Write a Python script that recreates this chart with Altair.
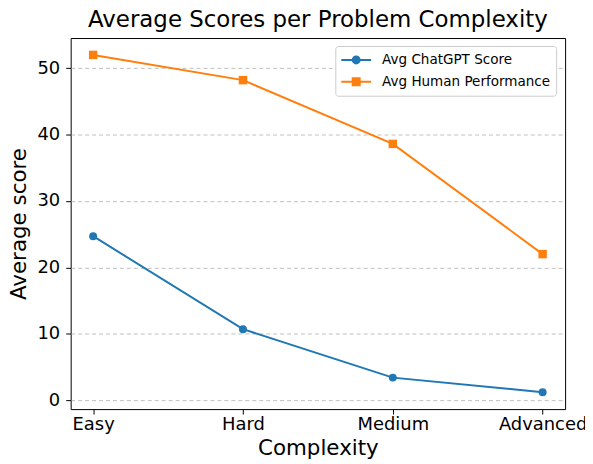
import altair as alt
import pandas as pd

categories = ["Easy", "Hard", "Medium", "Advanced"]
chatgpt = [24.7, 10.7, 3.4, 1.2]
human = [52.0, 48.2, 38.6, 22.0]
series_names = ["Avg ChatGPT Score", "Avg Human Performance"]
colors = ["#1f77b4", "#ff7f0e"]
y_ticks = [0, 10, 20, 30, 40, 50]

rows = []
for c, v in zip(categories, chatgpt):
    rows.append({"Complexity": c, "score": v, "series": series_names[0]})
for c, v in zip(categories, human):
    rows.append({"Complexity": c, "score": v, "series": series_names[1]})
df = pd.DataFrame(rows)

FONT = "DejaVu Sans"

# legend symbols: line segment + marker (scaled by sqrt(size)/2 = 7px per unit)
circle_sym = "M-1.14,0H3.14M0.5,0A0.5,0.5 0 1,1 1.5,0A0.5,0.5 0 1,1 0.5,0Z"
square_sym = "M-1.14,0H3.14M0.5,-0.5H1.5V0.5H0.5Z"

x_enc = alt.X("Complexity:N", sort=categories,
              scale=alt.Scale(type="point", padding=0.15),
              axis=alt.Axis(title="Complexity", labelAngle=0, labelFontSize=18,
                            titleFontSize=21.5, tickSize=5, labelPadding=2,
                            titlePadding=4, domain=False, grid=False,
                            labelColor="black", titleColor="black",
                            tickColor="black", titleFontWeight="normal",
                            labelFont=FONT, titleFont=FONT))
y_enc = alt.Y("score:Q",
              scale=alt.Scale(domain=[-1.34, 54.54], nice=False, zero=False),
              axis=alt.Axis(title="Average score", values=y_ticks, labelFontSize=18,
                            titleFontSize=21.5, tickSize=5, labelPadding=6,
                            titlePadding=6, domain=False, grid=True,
                            gridDash=[4, 3], gridColor="#b0b0b0", gridWidth=0.8,
                            labelColor="black", titleColor="black",
                            tickColor="black", titleFontWeight="normal",
                            labelFont=FONT, titleFont=FONT))

legend_props = dict(title=None, orient="none", legendX=266, legendY=8,
                    labelFontSize=13.6, labelFont=FONT, labelColor="black",
                    labelLimit=400, symbolOpacity=1,
                    symbolSize=196, symbolStrokeWidth=2,
                    rowPadding=6, labelOffset=25, padding=6,
                    strokeColor="#cccccc", fillColor="white", cornerRadius=3)

color_scale = alt.Scale(domain=series_names, range=colors)

# layer with no drawn rows, carrying the combined legend (fill + stroke + shape)
legend_layer = alt.Chart(df).transform_filter("false").mark_point(filled=True, opacity=1).encode(
    x=x_enc, y=y_enc,
    color=alt.Color("series:N", scale=color_scale, legend=alt.Legend(**legend_props)),
    stroke=alt.Stroke("series:N", scale=alt.Scale(domain=series_names, range=colors),
                      legend=alt.Legend(**legend_props)),
    shape=alt.Shape("series:N", scale=alt.Scale(domain=series_names, range=[circle_sym, square_sym]),
                    legend=alt.Legend(**legend_props)))

lines = alt.Chart(df).mark_line(strokeWidth=2).encode(
    x=x_enc, y=y_enc,
    color=alt.Color("series:N", scale=color_scale, legend=alt.Legend(**legend_props)),
    detail="series:N")
circles = alt.Chart(df).transform_filter(alt.datum.series == series_names[0]).mark_point(
    shape="circle", filled=True, size=64, opacity=1).encode(
    x=x_enc, y=y_enc, color=alt.Color("series:N", scale=color_scale, legend=None))
squares = alt.Chart(df).transform_filter(alt.datum.series == series_names[1]).mark_point(
    shape="square", filled=True, size=72, opacity=1).encode(
    x=x_enc, y=y_enc, color=alt.Color("series:N", scale=color_scale, legend=None))

chart = alt.layer(legend_layer, lines, circles, squares).properties(
    width=497, height=373,
    title=alt.Title("Average Scores per Problem Complexity", fontSize=23,
                    font=FONT, fontWeight="normal", color="black", offset=6),
    autosize=alt.AutoSizeParams(type="none"),
    padding={"left": 63, "top": 29, "right": 20, "bottom": 54},
).configure(background="white").configure_view(stroke="black", strokeWidth=1)

chart.save("out.html", embed_options={"renderer": "svg", "actions": False})
